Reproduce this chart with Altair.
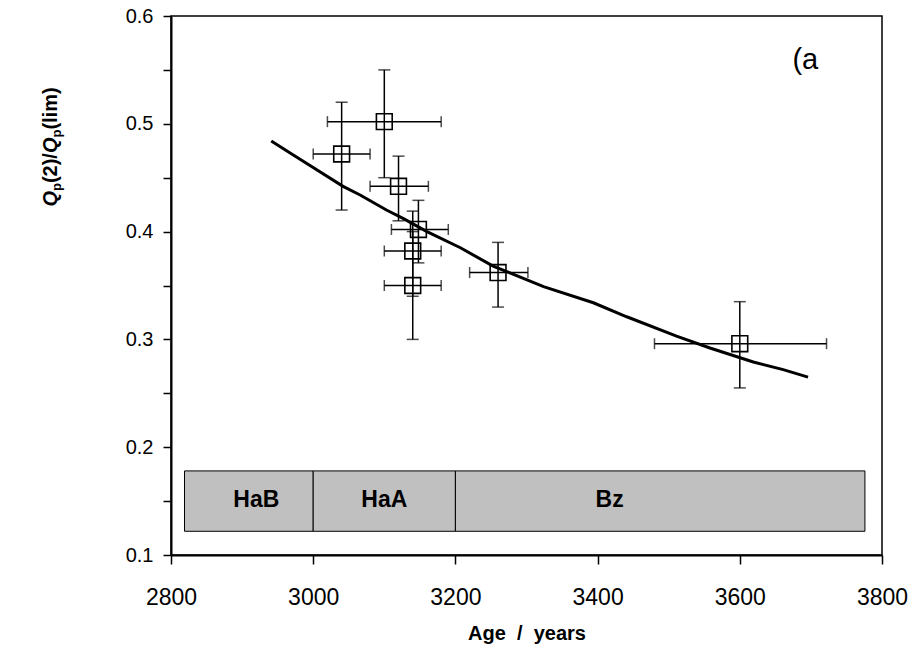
import altair as alt
import pandas as pd

# ---- data ----
age = [3040, 3100, 3120, 3148, 3140, 3140, 3260, 3600]
ratio = [0.472, 0.502, 0.442, 0.402, 0.382, 0.350, 0.362, 0.296]
age_lo = [3000, 3020, 3080, 3110, 3100, 3100, 3220, 3480]
age_hi = [3080, 3180, 3162, 3190, 3180, 3180, 3302, 3722]
ratio_lo = [0.420, 0.450, 0.410, 0.371, 0.340, 0.300, 0.330, 0.255]
ratio_hi = [0.520, 0.550, 0.470, 0.429, 0.419, 0.400, 0.390, 0.335]

fit_age = [2941, 2972, 2996, 3042, 3066, 3103, 3127, 3160, 3207, 3253, 3324,
           3394, 3441, 3511, 3558, 3619, 3661, 3696]
fit_ratio = [0.484, 0.471, 0.461, 0.442, 0.434, 0.420, 0.412, 0.400, 0.385, 0.368, 0.349,
             0.334, 0.321, 0.303, 0.292, 0.279, 0.272, 0.265]

period_names = ["HaB", "HaA", "Bz"]
period_start = [2819, 3000, 3200]
period_end = [3000, 3200, 3776]
period_label_x = [2920, 3100, 3417]
period_lo = 0.122
period_hi = 0.178
period_label_y = 0.151

panel_label = "(a"
panel_x = 3674
panel_y = 0.551

x_ticks = [2800, 3000, 3200, 3400, 3600, 3800]
y_ticks = [0.1, 0.15, 0.2, 0.25, 0.3, 0.35, 0.4, 0.45, 0.5, 0.55, 0.6]

x_title = "Age\u00a0\u00a0/\u00a0\u00a0years"
# y-axis title pieces: text, italic?, subscript?
title_parts = ["Q", "p", "(2)/", "Q", "p", "(lim)"]
title_italic = [True, False, False, True, False, False]
title_sub = [False, True, False, False, True, False]

W, H = 711, 539
FONT = "Liberation Sans"
NARROW = "Liberation Sans Narrow, Liberation Sans"

pts = pd.DataFrame(dict(age=age, ratio=ratio, age_lo=age_lo, age_hi=age_hi,
                        ratio_lo=ratio_lo, ratio_hi=ratio_hi))
fit = pd.DataFrame(dict(age=fit_age, ratio=fit_ratio))
periods = pd.DataFrame(dict(name=period_names, start=period_start, end=period_end,
                            lx=period_label_x, lo=period_lo, hi=period_hi,
                            ly=period_label_y))
panel = pd.DataFrame(dict(t=[panel_label], x=[panel_x], y=[panel_y]))

xs = alt.Scale(domain=[2800, 3800], nice=False, zero=False)
ys = alt.Scale(domain=[0.1, 0.6], nice=False, zero=False)

xaxis = alt.Axis(values=x_ticks, title=x_title, format="d")
yaxis = alt.Axis(values=y_ticks, title=None,
                 labelExpr="abs(round(datum.value*10) - datum.value*10) < 0.001 ? format(datum.value, '.1f') : ''")

base = alt.Chart(pts)

rects = alt.Chart(periods).mark_rect(fill="#c0c0c0", stroke="black", strokeWidth=1).encode(
    x=alt.X("start:Q", scale=xs, axis=xaxis), x2="end:Q",
    y=alt.Y("lo:Q", scale=ys, axis=yaxis), y2="hi:Q")
rect_txt = alt.Chart(periods).mark_text(font=FONT, fontSize=23, fontWeight="bold",
                                         color="black").encode(
    x=alt.X("lx:Q", scale=xs), y=alt.Y("ly:Q", scale=ys), text="name:N")

vbar = base.mark_rule(color="black", strokeWidth=1.5).encode(
    x=alt.X("age:Q", scale=xs), y=alt.Y("ratio_lo:Q", scale=ys), y2="ratio_hi:Q")
hbar = base.mark_rule(color="black", strokeWidth=1.5).encode(
    y=alt.Y("ratio:Q", scale=ys), x=alt.X("age_lo:Q", scale=xs), x2="age_hi:Q")
cap_lo = base.mark_tick(color="black", thickness=1.5, size=12, orient="horizontal").encode(
    x=alt.X("age:Q", scale=xs), y=alt.Y("ratio_lo:Q", scale=ys))
cap_hi = base.mark_tick(color="black", thickness=1.5, size=12, orient="horizontal").encode(
    x=alt.X("age:Q", scale=xs), y=alt.Y("ratio_hi:Q", scale=ys))
cap_l = base.mark_tick(color="black", thickness=1.5, size=11, orient="vertical").encode(
    x=alt.X("age_lo:Q", scale=xs), y=alt.Y("ratio:Q", scale=ys))
cap_r = base.mark_tick(color="black", thickness=1.5, size=11, orient="vertical").encode(
    x=alt.X("age_hi:Q", scale=xs), y=alt.Y("ratio:Q", scale=ys))
squares = base.mark_point(shape="square", filled=False, color="black", strokeWidth=1.6,
                          size=250, opacity=1).encode(
    x=alt.X("age:Q", scale=xs), y=alt.Y("ratio:Q", scale=ys))

line = alt.Chart(fit).mark_line(color="black", strokeWidth=3).encode(
    x=alt.X("age:Q", scale=xs), y=alt.Y("ratio:Q", scale=ys))

panel_txt = alt.Chart(panel).mark_text(font=FONT, fontSize=29, align="left",
                                       baseline="alphabetic", color="black").encode(
    x=alt.X("x:Q", scale=xs), y=alt.Y("y:Q", scale=ys), text="t:N")

# y-axis title assembled from pieces (rotated, reading upward)
big, small = 20, 13
widths = {"Q": 0.778, "p": 0.611, "(": 0.333, ")": 0.333, "2": 0.556, "/": 0.278,
          "l": 0.278, "i": 0.278, "m": 0.889}
sizes = [small if s else big for s in title_sub]
lens = [sum(widths[c] for c in t) * fs for t, fs in zip(title_parts, sizes)]
total = sum(lens)
center_y = 147
start = center_y + total / 2
title_layers = []
pos = start
for t, it, sb, fs, ln in zip(title_parts, title_italic, title_sub, sizes, lens):
    title_layers.append(
        alt.Chart(pd.DataFrame({"t": [t]})).mark_text(
            font=FONT, fontSize=fs, fontWeight="bold",
            fontStyle="italic" if it else "normal", angle=270, align="left",
            baseline="alphabetic", color="black").encode(
            x=alt.value(57 - 171 + (4 if sb else 0)), y=alt.value(pos - 16), text="t:N"))
    pos -= ln

chart = alt.layer(rects, rect_txt, line, vbar, hbar, cap_lo, cap_hi, cap_l, cap_r,
                  squares, panel_txt, *title_layers).properties(
    width=W, height=H,
    autosize=alt.AutoSizeParams(type="none"),
    padding={"left": 171, "top": 16, "right": 31, "bottom": 101},
    background="white",
).configure_view(stroke="black", strokeWidth=1.5).configure_axis(
    grid=False, domainColor="black", domainWidth=2,
    tickColor="black", tickWidth=1.5, labelColor="black",
    titleColor="black", titleFont=FONT, titleFontWeight="bold",
    labelFlush=False, labelOverlap=False,
).configure_axisX(
    labelFont=NARROW, labelFontSize=23, labelPadding=22, tickSize=9,
    titleFontSize=20, titlePadding=14,
).configure_axisY(
    labelFont=FONT, labelFontSize=20, labelPadding=10, tickSize=8,
)

chart.save("out.html", embed_options={"renderer": "svg", "actions": False})
